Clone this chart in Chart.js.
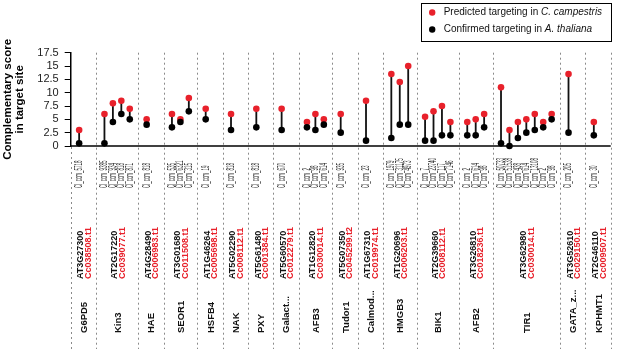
<!DOCTYPE html>
<html>
<head>
<meta charset="utf-8">
<script src="https://cdn.jsdelivr.net/npm/chart.js@4.4.1/dist/chart.umd.min.js"></script>
<style>
  html, body { margin: 0; padding: 0; background: #fff; }
  #wrap { width: 617px; height: 353px; }
</style>
</head>
<body>
<div id="wrap"><canvas id="scoreChart" width="617" height="353"></canvas></div>
<script>
const FONT = "'Liberation Sans', Arial, Helvetica, sans-serif";
const RED = '#e8212b';

// one entry per gene
const geneNames = ['G6PD5', 'Kin3', 'HAE', 'SEOR1', 'HSFB4', 'NAK', 'PXY', 'Galact...', 'AFB3',
  'Tudor1', 'Calmod...', 'HMGB3', 'BIK1', 'AFB2', 'TIR1', 'GATA_z...', 'KPHMT1'];
const atIds = ['AT3G27300', 'AT2G17220', 'AT4G28490', 'AT3G01680', 'AT1G46264', 'AT5G02290', 'AT5G61480',
  'AT5G60570', 'AT1G12820', 'AT5G07350', 'AT1G67310', 'AT1G20696', 'AT2G39660', 'AT3G26810',
  'AT3G62980', 'AT3G52610', 'AT2G46110'];
const ccIds = ['Cc038508.t1', 'Cc039077.t1', 'Cc006983.t1', 'Cc011508.t1', 'Cc005698.t1', 'Cc008112.t1',
  'Cc001384.t1', 'Cc012279.t1', 'Cc030014.t1', 'Cc045299.t2', 'Cc019974.t1', 'Cc006203.t1',
  'Cc008112.t1', 'Cc018236.t1', 'Cc030014.t1', 'Cc029150.t1', 'Cc009507.t1'];
const sitesPerGene = [1, 4, 1, 3, 1, 1, 1, 1, 3, 1, 1, 3, 4, 3, 7, 1, 1];

// one entry per target site
const siteLabels = ['Cl_ccm_5718',
  'Cl_ccm_9385', 'Cl_ccm_934', 'Cl_ccm_818', 'Cl_ccm_871',
  'Cl_ccm_818',
  'Cl_ccm_535', 'Cl_ccm_6321', 'Cl_ccm_315',
  'Cl_ccm_19', 'Cl_ccm_818', 'Cl_ccm_818', 'Cl_ccm_670',
  'Cl_ccm_2', 'Cl_ccm_98', 'Cl_ccm_614',
  'Cl_ccm_935', 'Cl_ccm_23',
  'Cl_ccm_1979', 'Cl_ccm_31175', 'Cl_ccm_4973',
  'Cl_ccm_7', 'Cl_ccm_23740', 'Cl_ccm_117', 'Cl_ccm_7146',
  'Cl_ccm_2', 'Cl_ccm_614', 'Cl_ccm_98',
  'Cl_ccm_50733', 'Cl_ccm_51538', 'Cl_ccm_438', 'Cl_ccm_614', 'Cl_ccm_13108', 'Cl_ccm_2', 'Cl_ccm_98',
  'Cl_ccm_205', 'Cl_ccm_30'];
const predicted = [3, 6, 8, 8.5, 7, 5, 6, 5, 9, 7, 6, 7, 7, 4.5, 6, 5, 6, 8.5, 13.5, 12, 15,
  5.5, 6.5, 7.5, 4.5, 4.5, 5, 6, 11, 3, 4.5, 5, 6, 4.5, 6, 13.5, 4.5];
const confirmed = [0.5, 0.5, 4.5, 6, 5, 4, 3.5, 4.5, 6.5, 5, 3, 3.5, 3, 3.5, 3, 4, 2.5, 1, 1.5, 4, 4,
  1, 1, 2, 2, 2, 2, 3.5, 0.5, 0, 1.5, 2.5, 3, 3.5, 5, 2.5, 2];

const yTicks = { min: 0, max: 17.5, step: 2.5 };

// slot layout on the x scale: each gene gets max(3, n+1) slots, sites at 1..n
const siteX = [];
const bounds = [0];
const geneCenter = [];
let start = 0;
sitesPerGene.forEach(n => {
  const w = Math.max(3, n + 1);
  for (let k = 1; k <= n; k++) siteX.push(start + k);
  geneCenter.push(start + w / 2);
  start += w;
  bounds.push(start);
});

const redPts = siteX.map((x, i) => ({x: x, y: predicted[i]}));
const blackPts = siteX.map((x, i) => ({x: x, y: confirmed[i]}));
const stems = [];
siteX.forEach((x, i) => {
  stems.push({x: x, y: predicted[i]}, {x: x, y: confirmed[i]}, {x: x, y: null});
});

function vtext(ctx, str, x, y, font, color, squeeze) {
  ctx.save();
  ctx.translate(x, y);
  ctx.rotate(-Math.PI / 2);
  if (squeeze) ctx.scale(squeeze, 1);
  ctx.font = font;
  ctx.fillStyle = color;
  ctx.textAlign = 'left';
  ctx.textBaseline = 'middle';
  ctx.fillText(str, 0, 0);
  ctx.restore();
}

const decor = {
  id: 'decor',
  beforeDatasetsDraw(chart) {
    const {ctx, chartArea, scales: {x, y}} = chart;
    const y0 = y.getPixelForValue(0);
    ctx.save();
    ctx.strokeStyle = '#8a8a8a';
    ctx.lineWidth = 1;
    ctx.setLineDash([2, 3]);
    bounds.forEach((b, i) => {
      const px = Math.round(x.getPixelForValue(b)) + 0.5;
      ctx.beginPath();
      ctx.moveTo(px, i === 0 ? y0 + 1 : chartArea.top);
      ctx.lineTo(px, 349);
      ctx.stroke();
    });
    ctx.setLineDash([]);
    ctx.strokeStyle = '#000';
    ctx.lineWidth = 1.5;
    ctx.beginPath();
    ctx.moveTo(chartArea.left, y0);
    ctx.lineTo(chartArea.right, y0);
    ctx.stroke();
    ctx.restore();
  },
  afterDraw(chart) {
    const {ctx, chartArea, scales: {x}} = chart;
    // site labels under the axis
    siteLabels.forEach((s, i) => {
      vtext(ctx, s, x.getPixelForValue(siteX[i]), 188, '10.5px ' + FONT, '#2a2a2a', 0.43);
    });
    // gene ids and names
    geneNames.forEach((g, i) => {
      const cx = x.getPixelForValue(geneCenter[i]);
      vtext(ctx, atIds[i], cx - 2.5, 279, 'bold 9px ' + FONT, '#111');
      vtext(ctx, ccIds[i], cx + 5, 279, 'bold 9px ' + FONT, RED);
      vtext(ctx, g, cx + 1, 333, 'bold 9.5px ' + FONT, '#111');
    });
    // legend box
    const right = chartArea.right;
    const left = right - 190;
    ctx.save();
    ctx.strokeStyle = '#000';
    ctx.lineWidth = 1;
    ctx.strokeRect(Math.round(left) + 0.5, 3.5, 190, 38);
    const rows = [
      {color: RED, plain: 'Predicted targeting in ', ital: 'C. campestris', y: 12.5},
      {color: '#000', plain: 'Confirmed targeting in ', ital: 'A. thaliana', y: 29.5}
    ];
    rows.forEach(r => {
      ctx.fillStyle = r.color;
      ctx.beginPath();
      ctx.arc(left + 11.5, r.y, 3.2, 0, Math.PI * 2);
      ctx.fill();
      ctx.fillStyle = '#111';
      ctx.textBaseline = 'middle';
      ctx.textAlign = 'left';
      ctx.font = '10px ' + FONT;
      const tx = left + 23;
      ctx.fillText(r.plain, tx, r.y);
      const w = ctx.measureText(r.plain).width;
      ctx.font = 'italic 10px ' + FONT;
      ctx.fillText(r.ital, tx + w, r.y);
    });
    ctx.restore();
  }
};

new Chart(document.getElementById('scoreChart').getContext('2d'), {
  type: 'scatter',
  data: {
    datasets: [
      {
        type: 'line',
        data: stems,
        borderColor: '#111',
        borderWidth: 1.8,
        pointRadius: 0,
        spanGaps: false,
        clip: false,
        order: 3
      },
      {
        label: 'Predicted targeting in C. campestris',
        data: redPts,
        backgroundColor: RED,
        borderWidth: 0,
        pointRadius: 3.3,
        clip: false,
        order: 2
      },
      {
        label: 'Confirmed targeting in A. thaliana',
        data: blackPts,
        backgroundColor: '#000',
        borderWidth: 0,
        pointRadius: 3.3,
        clip: false,
        order: 1
      }
    ]
  },
  options: {
    responsive: false,
    animation: false,
    devicePixelRatio: 1,
    layout: {
      padding: {left: 0, right: 6.3, top: 52.7, bottom: 207}
    },
    plugins: {
      legend: {display: false},
      tooltip: {enabled: false}
    },
    scales: {
      x: {
        type: 'linear',
        display: false,
        min: bounds[0],
        max: bounds[bounds.length - 1]
      },
      y: {
        min: yTicks.min,
        max: yTicks.max,
        ticks: {
          stepSize: yTicks.step,
          autoSkip: false,
          color: '#222',
          padding: 6,
          font: {family: FONT, size: 11}
        },
        grid: {
          drawOnChartArea: false,
          drawTicks: true,
          tickLength: 6,
          color: '#000'
        },
        border: {display: true, color: '#000', width: 1.5},
        title: {
          display: true,
          text: ['Complementary score', 'in target site'],
          color: '#000',
          font: {family: FONT, size: 11.5, weight: 'bold', lineHeight: 1.05},
          padding: {top: 2, bottom: 0}
        },
        afterFit(scale) {
          scale.width = 70.7;
        }
      }
    }
  },
  plugins: [decor]
});
</script>
</body>
</html>
